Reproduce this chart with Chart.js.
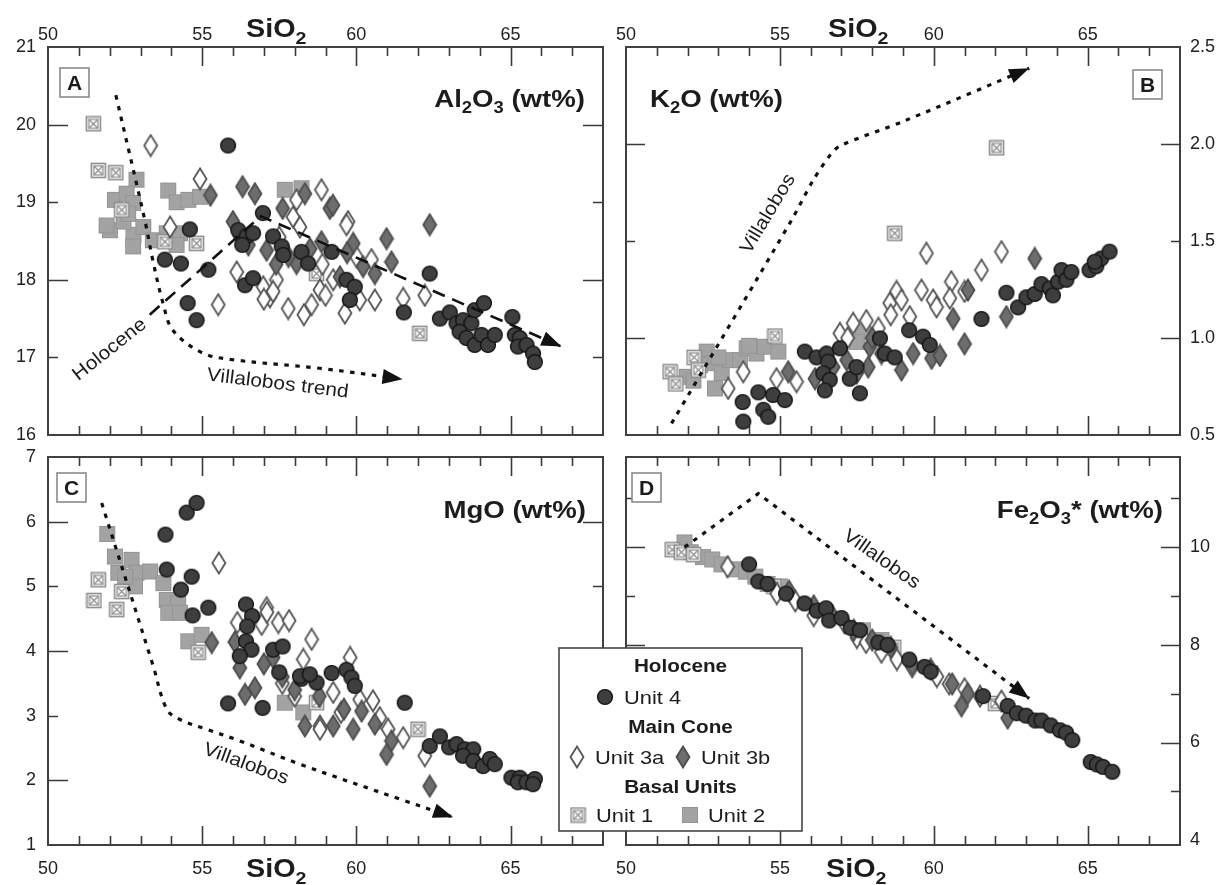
<!DOCTYPE html>
<html><head><meta charset="utf-8">
<script src="https://cdn.jsdelivr.net/npm/chart.js@4/dist/chart.umd.min.js"></script>
<style>
html,body{margin:0;padding:0;background:#fff;}
#wrap{position:relative;width:1224px;height:885px;overflow:hidden;background:#fff;}
#wrap canvas{position:absolute;left:0;top:0;}
</style></head><body><div id="wrap">
<canvas id="cA" width="1224" height="885"></canvas>
<canvas id="cB" width="1224" height="885"></canvas>
<canvas id="cC" width="1224" height="885"></canvas>
<canvas id="cD" width="1224" height="885"></canvas>
</div>
<script>
// ---------------- DATA (SiO2 wt%, oxide wt%) ----------------
const X_LABELS = [50, 55, 60, 65];
const A_Y_LABELS = [16, 17, 18, 19, 20, 21];
const B_Y_LABELS = [0.5, 1.0, 1.5, 2.0, 2.5];
const C_Y_LABELS = [1, 2, 3, 4, 5, 6, 7];
const D_Y_LABELS = [4, 6, 8, 10];

// Panel A: Al2O3
const A_unit4 = [[55.84,19.73],[56.97,18.86],[54.6,18.65],[53.79,18.26],[54.31,18.21],[55.2,18.13],[54.53,17.7],[54.82,17.48],[56.17,18.64],[56.44,18.56],[56.65,18.6],[56.39,17.93],[56.65,18.02],[57.3,18.56],[57.58,18.43],[57.63,18.32],[58.22,18.36],[58.44,18.21],[56.3,18.45],[59.2,18.36],[59.68,18.0],[59.95,17.91],[59.79,17.74],[62.38,18.08],[61.54,17.58],[62.71,17.5],[63.03,17.58],[63.25,17.44],[63.46,17.48],[63.73,17.44],[63.84,17.61],[64.14,17.7],[63.35,17.33],[63.57,17.25],[63.84,17.16],[64.06,17.29],[64.27,17.16],[64.49,17.29],[65.06,17.52],[65.14,17.29],[65.3,17.25],[65.24,17.14],[65.52,17.16],[65.73,17.05],[65.79,16.94]];
const A_unit3a = [[53.33,19.73],[54.93,19.3],[58.06,19.03],[57.95,18.81],[58.87,19.16],[59.73,18.75],[56.12,18.1],[55.52,17.68],[57.41,18.0],[56.98,17.91],[57.2,17.78],[57.79,17.63],[58.55,17.68],[58.17,18.68],[59.68,18.71],[60.49,18.26],[59.25,18.0],[58.82,17.87],[59.63,17.57],[60.11,17.74],[60.6,17.74],[61.52,17.76],[62.22,17.8],[53.96,18.68],[57.3,17.85],[57.0,17.75],[58.3,17.55],[57.5,18.55],[58.9,18.2],[60.0,18.3],[59.0,17.8]];
const A_unit3b = [[55.27,19.09],[56.31,19.2],[56.71,19.11],[57.61,18.92],[58.33,19.11],[59.14,18.92],[59.24,18.96],[62.38,18.71],[57.09,18.38],[58.06,18.21],[56.22,18.56],[58.87,18.49],[59.9,18.47],[60.22,18.17],[60.6,18.08],[60.98,18.53],[61.14,18.23],[59.47,18.04],[56.5,18.45],[57.8,18.3],[58.5,18.4],[59.7,18.35],[56.0,18.75],[57.4,18.2]];
const A_unit1 = [[51.47,20.01],[51.63,19.41],[52.2,19.38],[52.39,18.9],[54.82,18.47],[53.79,18.49],[58.71,18.08],[62.06,17.31]];
const A_unit2 = [[52.87,19.29],[52.17,19.03],[52.55,19.11],[52.76,18.99],[53.9,19.15],[54.17,19.0],[54.55,19.03],[54.93,19.07],[57.68,19.16],[58.22,19.18],[52.01,18.64],[52.77,18.58],[53.09,18.68],[52.76,18.43],[53.85,18.6],[54.28,18.6],[54.17,18.45],[53.4,18.51],[51.9,18.7],[52.45,18.75],[52.6,18.85]];
const A_holocene = [[53.3,17.55],[56.9,18.82],[66.65,17.14]];
const A_villalobos = [[52.2,20.38],[53.14,18.77],[53.4,18.25],[53.73,17.7],[54.05,17.35],[55.0,17.06],[56.0,16.97],[58.8,16.86],[61.5,16.72]];

// Panel B: K2O
const B_unit4 = [[53.79,0.67],[53.81,0.569],[54.3,0.72],[54.46,0.63],[54.62,0.594],[54.78,0.706],[55.16,0.68],[55.81,0.93],[56.19,0.9],[56.52,0.92],[56.57,0.878],[56.41,0.818],[56.62,0.784],[56.46,0.73],[56.95,0.947],[57.27,0.79],[57.49,0.85],[57.6,0.715],[58.25,0.998],[58.41,0.92],[58.73,0.9],[59.2,1.04],[59.65,1.007],[59.87,0.964],[61.55,1.098],[62.36,1.233],[62.74,1.158],[63.01,1.21],[63.28,1.227],[63.5,1.278],[63.77,1.256],[63.87,1.22],[64.04,1.29],[64.15,1.35],[64.31,1.3],[64.47,1.34],[65.06,1.35],[65.28,1.37],[65.44,1.41],[65.71,1.445],[65.23,1.393]];
const B_unit3a = [[53.81,0.826],[53.32,0.74],[54.89,0.79],[55.54,0.775],[56.95,1.024],[57.38,1.076],[57.81,1.09],[58.79,1.24],[58.57,1.18],[59.76,1.437],[59.6,1.247],[59.98,1.196],[60.57,1.29],[60.52,1.205],[61.0,1.24],[61.55,1.35],[62.2,1.445],[58.95,1.196],[59.22,1.11],[60.09,1.16],[57.2,1.0],[58.2,1.05],[58.6,1.12]];
const B_unit3b = [[55.27,0.826],[56.14,0.79],[56.73,0.85],[57.17,0.886],[57.87,0.85],[57.92,0.955],[58.95,0.835],[59.33,0.92],[59.93,0.895],[60.2,0.91],[60.63,1.1],[61.11,1.247],[61.0,0.97],[62.36,1.11],[63.28,1.41],[56.5,0.9],[57.5,0.82],[58.3,0.92],[58.0,1.0]];
const B_unit1 = [[51.43,0.826],[51.62,0.763],[52.21,0.9],[52.35,0.835],[54.84,1.01],[58.73,1.54],[62.04,1.98]];
const B_unit2 = [[51.97,0.8],[52.62,0.93],[52.78,0.87],[52.89,0.74],[53.11,0.82],[53.38,0.886],[53.7,0.886],[53.92,0.947],[54.24,0.92],[54.51,0.955],[54.95,0.93],[52.19,0.78],[52.4,0.86],[53.0,0.9],[54.0,0.96],[57.7,1.03],[57.5,0.98]];
const B_villalobos = [[51.48,0.56],[55.38,1.608],[56.07,1.81],[56.62,1.94],[56.95,1.99],[59.06,2.12],[63.1,2.39]];

// Panel C: MgO
const C_unit4 = [[53.81,5.8],[54.5,6.14],[54.82,6.29],[53.85,5.26],[54.66,5.15],[54.31,4.95],[55.2,4.67],[54.69,4.55],[56.42,4.72],[56.62,4.54],[56.46,4.38],[56.42,4.15],[56.6,4.02],[56.22,3.92],[57.3,4.02],[57.61,4.07],[55.84,3.19],[56.96,3.12],[57.5,3.67],[58.22,3.57],[58.71,3.51],[58.17,3.61],[58.49,3.64],[59.2,3.66],[59.68,3.71],[59.84,3.59],[59.95,3.46],[61.57,3.2],[62.38,2.53],[62.71,2.68],[63.01,2.51],[63.25,2.56],[63.52,2.48],[63.79,2.48],[63.46,2.38],[63.79,2.3],[64.11,2.22],[64.33,2.33],[64.49,2.25],[65.03,2.04],[65.3,2.04],[65.24,1.97],[65.52,1.97],[65.79,2.02],[65.73,1.94]];
const C_unit3a = [[55.54,5.36],[56.14,4.44],[57.09,4.67],[56.93,4.41],[57.47,4.44],[57.82,4.47],[58.55,4.18],[58.28,3.87],[58.82,2.84],[59.25,3.36],[60.11,3.25],[60.54,3.23],[60.76,2.97],[61.03,2.79],[61.52,2.66],[62.22,2.38],[58.82,2.79],[57.1,4.6],[59.8,3.9],[58.0,3.3],[59.5,3.05],[57.6,3.5]];
const C_unit3b = [[55.31,4.13],[56.06,4.14],[56.39,3.33],[56.71,3.43],[58.33,2.84],[56.22,3.74],[59.25,2.84],[59.9,2.79],[60.17,3.07],[60.6,2.87],[61.14,2.61],[60.98,2.4],[62.38,1.91],[57.0,3.8],[57.6,3.6],[58.0,3.4],[58.8,3.3],[59.6,3.1],[57.3,3.9]];
const C_unit1 = [[51.63,5.1],[51.49,4.78],[52.39,4.92],[52.23,4.64],[54.87,3.98],[62.0,2.79],[58.71,3.2]];
const C_unit2 = [[51.92,5.81],[52.17,5.46],[52.28,5.21],[52.71,5.41],[52.87,5.21],[52.82,5.0],[53.31,5.23],[53.74,5.05],[53.85,4.79],[54.22,4.74],[53.9,4.59],[54.28,4.59],[54.55,4.15],[54.98,4.25],[52.5,5.15],[57.68,3.2],[58.28,3.05]];
const C_villalobos = [[51.74,6.29],[53.41,3.77],[53.85,3.1],[54.28,2.94],[55.14,2.79],[56.22,2.61],[58.17,2.25],[61.41,1.71],[63.14,1.43]];

// Panel D: Fe2O3*
const D_unit4 = [[54.0,9.65],[54.3,9.3],[54.6,9.25],[55.2,9.05],[55.8,8.85],[56.2,8.7],[56.5,8.75],[56.6,8.5],[57.0,8.55],[57.3,8.35],[57.6,8.3],[58.2,8.05],[58.5,8.0],[59.2,7.7],[59.7,7.55],[59.9,7.45],[61.6,6.95],[62.4,6.75],[62.7,6.6],[63.0,6.55],[63.3,6.45],[63.5,6.45],[63.8,6.35],[64.1,6.25],[64.3,6.2],[64.5,6.05],[65.1,5.6],[65.3,5.55],[65.5,5.5],[65.8,5.4]];
const D_unit3a = [[53.3,9.6],[54.9,9.05],[55.5,8.9],[56.1,8.6],[57.1,8.45],[57.5,8.15],[57.8,8.05],[58.3,7.85],[58.8,7.7],[59.3,7.55],[60.1,7.35],[60.5,7.2],[61.0,7.1],[61.5,6.95],[62.2,6.85]];
const D_unit3b = [[55.3,9.1],[56.1,8.8],[56.7,8.6],[57.4,8.3],[58.0,8.1],[58.6,7.95],[59.3,7.6],[59.9,7.5],[60.6,7.2],[61.1,7.0],[60.9,6.75],[62.4,6.5]];
const D_unit1 = [[51.5,9.95],[51.8,9.9],[52.2,9.85],[54.8,9.2],[58.7,7.95],[62.0,6.8]];
const D_unit2 = [[51.9,10.1],[52.1,9.9],[52.5,9.8],[52.8,9.75],[53.1,9.65],[53.5,9.55],[53.9,9.5],[54.2,9.4],[54.6,9.25],[55.0,9.2],[57.7,8.3],[58.3,8.1]];
const D_villalobos = [[51.9,10.0],[54.3,11.1],[63.1,6.9]];

// ---------------- STYLE ----------------
const FONT = '"Liberation Sans", Arial, Helvetica, sans-serif';
const SX = 1.15; // horizontal stretch of the reference lettering
function mk(w, h, f) { const c = document.createElement('canvas'); c.width = w; c.height = h; f(c.getContext('2d')); return c; }
function diamond(fill, stroke) {
  return mk(16, 24, g => { g.beginPath(); g.moveTo(8, 1.5); g.lineTo(14.5, 12); g.lineTo(8, 22.5); g.lineTo(1.5, 12); g.closePath();
    g.fillStyle = fill; g.fill(); g.lineWidth = 1.8; g.strokeStyle = stroke; g.stroke(); });
}
const SYM = {
  u4: mk(18, 18, g => { g.beginPath(); g.arc(9, 9, 7.4, 0, Math.PI * 2); g.fillStyle = '#3e3e3e'; g.fill(); g.lineWidth = 1.4; g.strokeStyle = '#141414'; g.stroke(); }),
  u3a: diamond('#ffffff', '#555555'),
  u3b: diamond('#6d6d6d', '#4e4e4e'),
  u1: mk(17, 17, g => { g.fillStyle = '#fff'; g.fillRect(1, 1, 15, 15); g.strokeStyle = '#8c8c8c'; g.lineWidth = 1.6; g.strokeRect(1.5, 1.5, 14, 14);
    g.lineWidth = 1.2; g.strokeRect(4, 4, 9, 9); g.beginPath(); g.moveTo(4, 4); g.lineTo(13, 13); g.moveTo(13, 4); g.lineTo(4, 13); g.stroke(); }),
  u2: mk(18, 18, g => { g.fillStyle = '#a3a3a3'; g.fillRect(1, 1, 16, 16); g.strokeStyle = '#959595'; g.lineWidth = 1; g.strokeRect(1.5, 1.5, 15, 15); })
};

const toXY = a => a.map(p => ({ x: p[0], y: p[1] }));
function series(u4, u3b, u3a, u1, u2) {
  const mkds = (label, d, s) => ({ label, data: toXY(d), pointStyle: SYM[s], pointRadius: 8, showLine: false });
  return [mkds('Unit 4', u4, 'u4'), mkds('Unit 3b', u3b, 'u3b'), mkds('Unit 3a', u3a, 'u3a'), mkds('Unit 1', u1, 'u1'), mkds('Unit 2', u2, 'u2')];
}
function trend(label, d, kind, tension) {
  return { label, data: toXY(d), showLine: true, pointRadius: 0, borderColor: '#111', backgroundColor: '#111',
    borderWidth: kind === 'dash' ? 2.6 : 3.2, borderDash: kind === 'dash' ? [13, 8] : [4.5, 6.5], tension: tension || 0,
    arrowEnd: true, fill: false };
}

// text drawn with a horizontal stretch, bold runs with optional subscripts
function richText(ctx, parts, x, y, align, size, weight) {
  ctx.save();
  const sub = Math.round(size * 0.68); const wt = weight || 'bold';
  let w = 0;
  for (const [t, s] of parts) { ctx.font = `${wt} ${s ? sub : size}px ${FONT}`; w += ctx.measureText(t).width; }
  w *= SX;
  const x0 = align === 'right' ? x - w : (align === 'center' ? x - w / 2 : x);
  ctx.translate(x0, y); ctx.scale(SX, 1);
  ctx.textAlign = 'left'; ctx.textBaseline = 'alphabetic'; ctx.fillStyle = '#1c1c1c';
  let cx = 0;
  for (const [t, s] of parts) { ctx.font = `${wt} ${s ? sub : size}px ${FONT}`; ctx.fillText(t, cx, s ? size * 0.27 : 0); cx += ctx.measureText(t).width; }
  ctx.restore();
}

const framePlugin = {
  id: 'frame',
  beforeDatasetsDraw(chart, args, o) {
    const { ctx, chartArea: a } = chart; const x = chart.scales.x, y = chart.scales.y;
    ctx.save(); ctx.strokeStyle = '#3a3a3a'; ctx.lineWidth = 1.6; ctx.beginPath();
    for (let v = 51; v < 68; v++) {
      const L = v % 5 === 0 ? 19 : 9; const px = Math.round(x.getPixelForValue(v)) + 0.5;
      ctx.moveTo(px, a.top); ctx.lineTo(px, a.top + L); ctx.moveTo(px, a.bottom); ctx.lineTo(px, a.bottom - L);
    }
    for (const [v, L] of o.yTicks) {
      const py = Math.round(y.getPixelForValue(v)) + 0.5;
      ctx.moveTo(a.left, py); ctx.lineTo(a.left + L, py); ctx.moveTo(a.right, py); ctx.lineTo(a.right - L, py);
    }
    ctx.stroke();
    ctx.lineWidth = 2; ctx.strokeStyle = '#404040';
    ctx.strokeRect(a.left, a.top, a.right - a.left, a.bottom - a.top);
    ctx.restore();
  }
};

const notesPlugin = {
  id: 'notes',
  afterDatasetsDraw(chart, args, o) {
    const { ctx, chartArea: a } = chart; const x = chart.scales.x, y = chart.scales.y;
    ctx.save();
    chart.data.datasets.forEach((ds, i) => {
      if (!ds.arrowEnd) return;
      const pts = chart.getDatasetMeta(i).data; const p1 = pts[pts.length - 2], p2 = pts[pts.length - 1];
      const ang = Math.atan2(p2.y - p1.y, p2.x - p1.x);
      ctx.save(); ctx.translate(p2.x, p2.y); ctx.rotate(ang); ctx.beginPath();
      ctx.moveTo(0, 0); ctx.lineTo(-20, -7.5); ctx.lineTo(-20, 7.5); ctx.closePath(); ctx.fillStyle = '#111'; ctx.fill(); ctx.restore();
    });
    for (const t of o.texts) {
      ctx.save(); ctx.translate(x.getPixelForValue(t.x), y.getPixelForValue(t.y)); ctx.rotate(t.rot * Math.PI / 180); ctx.scale(1.1, 1);
      ctx.font = `19px ${FONT}`; ctx.fillStyle = '#1c1c1c'; ctx.textAlign = 'center'; ctx.textBaseline = 'middle';
      ctx.fillText(t.t, 0, 0); ctx.restore();
    }
    const bx = o.box[0] < 0 ? a.right + o.box[0] : a.left + o.box[0], by = a.top + o.box[1];
    ctx.fillStyle = '#fff'; ctx.fillRect(bx, by, 29, 29);
    ctx.strokeStyle = '#8a8a8a'; ctx.lineWidth = 1.6; ctx.strokeRect(bx, by, 29, 29);
    ctx.font = `bold 21px ${FONT}`; ctx.fillStyle = '#1c1c1c'; ctx.textAlign = 'center'; ctx.textBaseline = 'middle';
    ctx.fillText(o.letter, bx + 14.5, by + 16);
    richText(ctx, o.title, o.titlePos[0], o.titlePos[1], o.titlePos[2], 24);
    richText(ctx, [['SiO', false], ['2', true]], o.sio2[0], o.sio2[1], 'left', 25);
    ctx.restore();
  }
};

const legendPlugin = {
  id: 'figLegend',
  afterDraw(chart) {
    const ctx = chart.ctx; ctx.save();
    const L = 559, T = 648, W = 243, H = 183, cx = L + W / 2;
    ctx.fillStyle = '#fff'; ctx.fillRect(L, T, W, H); ctx.strokeStyle = '#444'; ctx.lineWidth = 1.6; ctx.strokeRect(L, T, W, H);
    richText(ctx, [['Holocene', false]], cx, 672, 'center', 18);
    richText(ctx, [['Main Cone', false]], cx, 733, 'center', 18);
    richText(ctx, [['Basal Units', false]], cx, 793, 'center', 18);
    const item = (s, sx, sy, label, tx) => { const c = SYM[s]; ctx.drawImage(c, sx - c.width / 2, sy - c.height / 2); richText(ctx, [[label, false]], tx, sy + 7, 'left', 19, 'normal'); };
    item('u4', 605, 697, 'Unit 4', 624);
    item('u3a', 577, 757, 'Unit 3a', 595); item('u3b', 683, 757, 'Unit 3b', 701);
    item('u1', 578, 815, 'Unit 1', 596); item('u2', 690, 815, 'Unit 2', 708);
    ctx.restore();
  }
};

function panel(id, p) {
  const tickFont = { family: FONT, size: 18 };
  return new Chart(document.getElementById(id), {
    type: 'scatter',
    data: { datasets: [...p.trends, ...p.series] },
    options: {
      responsive: false, animation: false, events: [],
      layout: { padding: p.pad },
      plugins: { legend: { display: false }, tooltip: { enabled: false }, frame: { yTicks: p.yTicks }, notes: p.notes },
      scales: {
        x: { type: 'linear', position: p.xPos, min: 50, max: 68,
          afterBuildTicks: s => { s.ticks = X_LABELS.map(v => ({ value: v })); },
          afterFit: s => { s.height = 40; },
          grid: { display: false, drawTicks: false }, border: { display: false },
          ticks: { font: tickFont, color: '#222', padding: p.xPos === 'top' ? 1 : 13, maxRotation: 0, autoSkip: false } },
        y: { type: 'linear', position: p.yPos, min: p.yMin, max: p.yMax,
          afterBuildTicks: s => { s.ticks = p.yLabels.map(v => ({ value: v })); },
          afterFit: s => { s.width = 40; },
          grid: { display: false, drawTicks: false }, border: { display: false },
          ticks: { font: tickFont, color: '#222', padding: p.yPos === 'left' ? 12 : 10, autoSkip: false,
            callback: p.yFmt || (v => String(v)) } }
      }
    },
    plugins: [framePlugin, notesPlugin].concat(p.extra || [])
  });
}

panel('cA', {
  xPos: 'top', yPos: 'left', yMin: 16, yMax: 21, yLabels: A_Y_LABELS,
  yTicks: [[17, 10], [18, 20], [19, 10], [20, 20]],
  pad: { left: 8, top: 7, right: 621, bottom: 450 },
  trends: [trend('Holocene', A_holocene, 'dash'), trend('Villalobos trend', A_villalobos, 'dot', 0.35)],
  series: series(A_unit4, A_unit3b, A_unit3a, A_unit1, A_unit2),
  notes: { letter: 'A', box: [12, 21], title: [['Al', false], ['2', true], ['O', false], ['3', true], [' (wt%)', false]], titlePos: [585, 107, 'right'],
    sio2: [246, 37], texts: [{ t: 'Holocene', x: 52.0, y: 17.1, rot: -38.5 }, { t: 'Villalobos trend', x: 57.45, y: 16.66, rot: 7 }] }
});
panel('cB', {
  xPos: 'top', yPos: 'right', yMin: 0.5, yMax: 2.5, yLabels: B_Y_LABELS, yFmt: v => v.toFixed(1),
  yTicks: [[1.0, 19], [1.5, 9], [2.0, 19]],
  pad: { left: 626, top: 7, right: 4, bottom: 450 },
  trends: [trend('Villalobos', B_villalobos, 'dot', 0.3)],
  series: series(B_unit4, B_unit3b, B_unit3a, B_unit1, B_unit2),
  notes: { letter: 'B', box: [-47, 23], title: [['K', false], ['2', true], ['O (wt%)', false]], titlePos: [650, 107, 'left'],
    sio2: [828, 37], texts: [{ t: 'Villalobos', x: 54.62, y: 1.64, rot: -59 }] }
});
panel('cC', {
  xPos: 'bottom', yPos: 'left', yMin: 1, yMax: 7, yLabels: C_Y_LABELS,
  yTicks: [[2, 20], [3, 10], [4, 20], [5, 10], [6, 20]],
  pad: { left: 8, top: 457, right: 621, bottom: 0 },
  trends: [trend('Villalobos', C_villalobos, 'dot', 0.35)],
  series: series(C_unit4, C_unit3b, C_unit3a, C_unit1, C_unit2),
  notes: { letter: 'C', box: [9, 16], title: [['MgO (wt%)', false]], titlePos: [586, 518, 'right'],
    sio2: [246, 877], texts: [{ t: 'Villalobos', x: 56.42, y: 2.25, rot: 20 }] }
});
panel('cD', {
  xPos: 'bottom', yPos: 'right', yMin: 3.9, yMax: 11.85, yLabels: D_Y_LABELS,
  yTicks: [[5, 9], [6, 19], [7, 9], [8, 19], [9, 9], [10, 19], [11, 9]],
  pad: { left: 626, top: 457, right: 4, bottom: 0 },
  trends: [trend('Villalobos', D_villalobos, 'dot', 0)],
  series: series(D_unit4, D_unit3b, D_unit3a, D_unit1, D_unit2),
  notes: { letter: 'D', box: [6, 16], title: [['Fe', false], ['2', true], ['O', false], ['3', true], ['* (wt%)', false]], titlePos: [1163, 518, 'right'],
    sio2: [826, 877], texts: [{ t: 'Villalobos', x: 58.3, y: 9.75, rot: 35 }] },
  extra: [legendPlugin]
});
</script></body></html>
